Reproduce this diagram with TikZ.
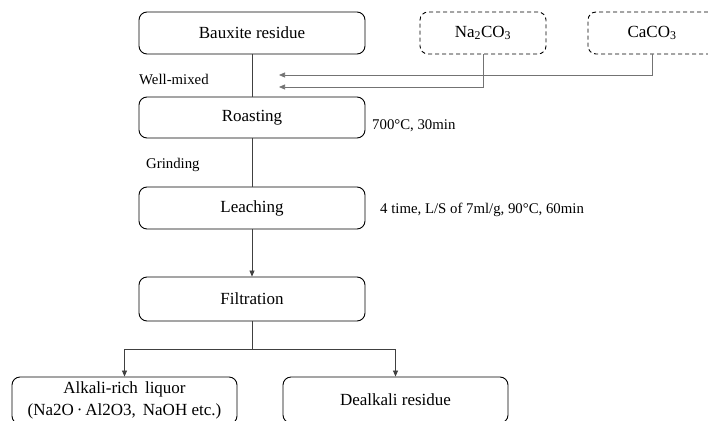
\documentclass[tikz,border=0pt]{standalone}
\usepackage{fontspec}
\setmainfont{Liberation Serif}
\newfontfamily\tnr{Liberation Serif}
\usetikzlibrary{arrows.meta}
\begin{document}
\begin{tikzpicture}[x=1pt,y=-1pt,
  procbox/.style={draw, rounded corners=8pt, line width=0.9pt, minimum width=226pt, minimum height=42pt, inner sep=2pt, font=\tnr\fontsize{17}{20}\selectfont, align=center},
  addbox/.style={draw, dash pattern=on 4pt off 3pt, rounded corners=8pt, line width=0.9pt, minimum width=126pt, minimum height=42pt, inner sep=2pt, font=\tnr\fontsize{17}{20}\selectfont},
  lbl/.style={anchor=west, inner sep=0pt, font=\tnr\fontsize{14.8}{16}\selectfont},
  link/.style={line width=0.7pt, black!75},
  feed/.style={line width=0.7pt, black!55, -{Triangle[length=6pt,width=5pt]}},
  arr/.style={line width=0.7pt, black!75, -{Triangle[length=6pt,width=5pt]}}]
\useasboundingbox (0,0) rectangle (708,420);
\node[procbox] (baux) at (252,33) {Bauxite residue};
\node[addbox] (na) at (483,33) {Na\textsubscript{2}CO\textsubscript{3}};
\node[addbox, minimum width=128pt] (ca) at (652,33) {CaCO\textsubscript{3}};
\node[procbox, minimum height=41pt] (roast) at (252,117.5) {Roasting};
\node[procbox] (leach) at (252,208) {Leaching};
\node[procbox, minimum height=44pt] (filt) at (252,299) {Filtration};
\node[procbox, minimum width=225pt, minimum height=47pt, font=\tnr\fontsize{17}{22}\selectfont] (alk) at (124.5,400.5) {Alkali-rich\ \,liquor\\(Na2O{\,}·{\,}Al2O3,\ \,NaOH\ etc.)};
\node[procbox, minimum width=225pt, minimum height=46pt] (deal) at (395.5,400) {Dealkali residue};

\coordinate (t1) at (279,75);
\coordinate (t2) at (279,87);
\node[lbl] (wm) at (139,79) {Well-mixed};
\node[lbl] (gr) at (146,165) {Grinding};
\node[lbl] (c1) at (372,126) {700°C, 30min};
\node[lbl] (c2) at (380,210) {4 time, L/S of 7ml/g, 90°C, 60min};

\draw[link] (baux.south) -- (roast.north);
\draw[feed] (ca.south) |- (t1);
\draw[feed] (na.south) |- (t2);
\draw[link] (roast.south) -- (leach.north);
\draw[arr] (leach.south) -- (filt.north);
\coordinate (br) at (252,349);
\draw[link] (filt.south) -- (br);
\draw[arr] (br) -| (alk.north);
\draw[arr] (br) -| (deal.north);
\end{tikzpicture}
\end{document}
